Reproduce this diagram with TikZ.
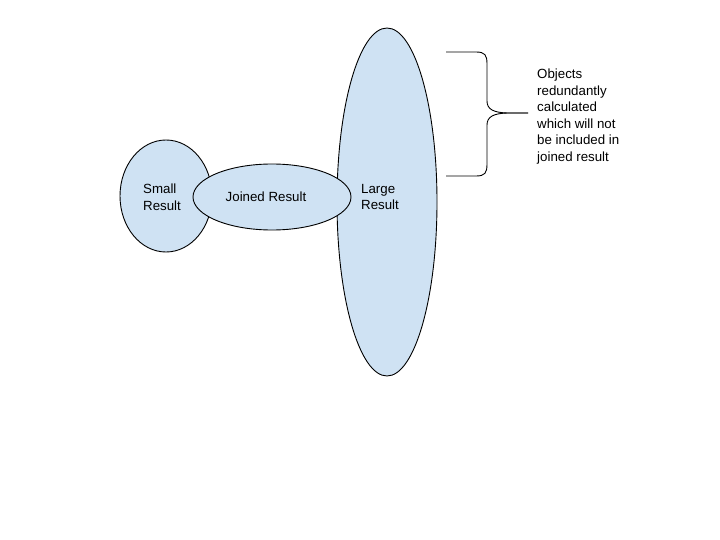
\documentclass[tikz,border=0pt]{standalone}
\usepackage{fontspec}
\setmainfont{Liberation Sans}
\usetikzlibrary{shapes.geometric}
\definecolor{blobfill}{HTML}{CFE2F3}
\tikzset{
  blob/.style={ellipse, draw=black, fill=blobfill, line width=0.9pt, inner sep=0pt},
  lbl/.style={font=\fontsize{13.3}{16.5}\selectfont, align=left, inner sep=0pt},
}
\begin{document}
\begin{tikzpicture}[x=1pt,y=-1pt]
\useasboundingbox (0,0) rectangle (720,540);
\node[blob, minimum width=92pt, minimum height=112pt] (small) at (166,196) {};
\node[blob, minimum width=100pt, minimum height=348pt] (large) at (387,202) {};
\node[blob, minimum width=158pt, minimum height=66pt] (joined) at (272,197) {};
\node[lbl, anchor=west] (smalltxt) at (143,197) {Small\\Result};
\node[lbl] (joinedtxt) at (266,197) {Joined Result};
\node[lbl, anchor=west] (largetxt) at (361,197) {Large\\Result};
\coordinate (btop) at (446,52);
\coordinate (bbot) at (446,176);
\coordinate (btip) at (528,113);
\draw[line width=0.9pt] (btop) -- (476,52) .. controls (485,52) and (487,55) .. (487,64)
  -- (487,101) .. controls (487,109) and (493,112.5) .. (507,113) -- (btip);
\draw[line width=0.9pt] (bbot) -- (476,176) .. controls (485,176) and (487,173) .. (487,164)
  -- (487,125) .. controls (487,117) and (493,113.5) .. (507,113) -- (btip);
\node[lbl, anchor=north west] (note) at (537,69) {Objects\\redundantly\\calculated\\which will not\\be included in\\joined result};
\end{tikzpicture}
\end{document}
